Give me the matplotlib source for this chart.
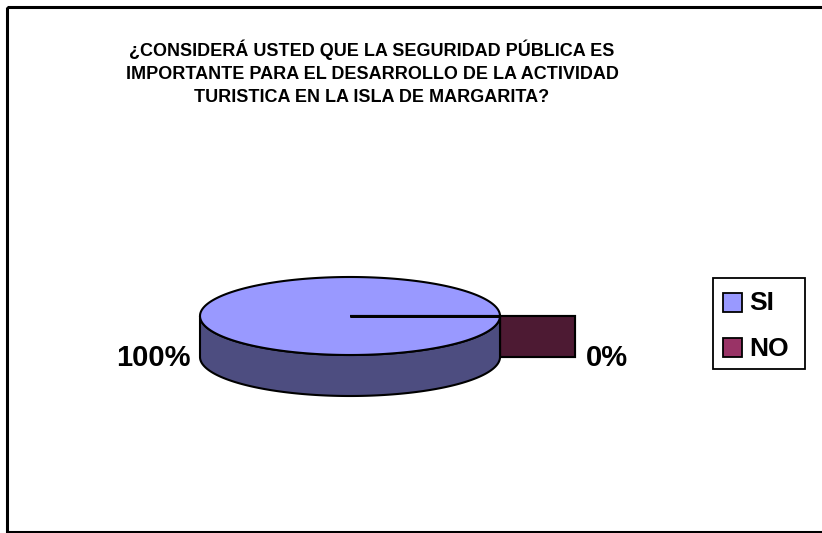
import numpy as np
import matplotlib
matplotlib.use('Agg')
import matplotlib.pyplot as plt
from matplotlib.patches import Polygon, Rectangle

labels = ['SI', 'NO']
values = [100, 0]
pct_labels = ['100%', '0%']
top_colors = ['#9999FF', '#993366']
side_colors = ['#4D4D80', '#4D1A33']
explode = [0.0, 0.5]
title = ('¿CONSIDERÁ USTED QUE LA SEGURIDAD PÚBLICA ES\n'
         'IMPORTANTE PARA EL DESARROLLO DE LA ACTIVIDAD\n'
         'TURISTICA EN LA ISLA DE MARGARITA?')

plt.rcParams['font.family'] = ['Liberation Sans', 'DejaVu Sans']

fig = plt.figure(figsize=(8.22, 5.33), dpi=100)
ax = fig.add_axes([0, 0, 1, 1])
ax.set_xlim(0, 822)
ax.set_ylim(533, 0)
ax.axis('off')

# outer chart frame (right side runs off the picture)
ax.add_patch(Rectangle((6.5, 6.5), 830, 525, fill=False, lw=2.2,
                       ec='black', zorder=1))

# 3d pie geometry, pixel units
cx, cy = 350, 316
rx, ry = 150, 39
depth = 41


def rim(t, dx=0, dy=0):
    return cx + dx + rx * np.cos(t), cy + dy - ry * np.sin(t)


fracs = np.array(values, dtype=float) / sum(values)
starts = 2 * np.pi * np.concatenate([[0], np.cumsum(fracs)[:-1]])
ends = starts + 2 * np.pi * fracs

# draw wedges with smaller slices first (they sit behind)
order = np.argsort(fracs)
for i in order:
    t0, t1 = starts[i], ends[i]
    mid = (t0 + t1) / 2
    ex = explode[i] * rx * np.cos(mid)
    ey = -explode[i] * ry * np.sin(mid)
    # radial cut faces
    for t in (t0, t1):
        x0, y0 = cx + ex, cy + ey
        x1, y1 = rim(t, ex, ey)
        ax.add_patch(Polygon([(x0, y0), (x1, y1), (x1, y1 + depth),
                              (x0, y0 + depth)], closed=True,
                             fc=side_colors[i], ec='black', lw=1.5, zorder=2))
    # front side band
    lo, hi = max(t0, np.pi), min(t1, 2 * np.pi)
    if hi > lo:
        tt = np.linspace(lo, hi, 200)
        xs, ys = rim(tt, ex, ey)
        pts = list(zip(xs, ys)) + list(zip(xs[::-1], ys[::-1] + depth))
        ax.add_patch(Polygon(pts, closed=True, fc=side_colors[i],
                             ec='black', lw=1.5, zorder=3))
    # top face
    if t1 > t0:
        tt = np.linspace(t0, t1, 400)
        xs, ys = rim(tt, ex, ey)
        pts = [(cx + ex, cy + ey)] + list(zip(xs, ys))
        ax.add_patch(Polygon(pts, closed=True, fc=top_colors[i],
                             ec='black', lw=1.5, zorder=4))
        # slice boundary radius, drawn a bit heavier
        for t in (t0, t1):
            x1, y1 = rim(t, ex, ey)
            ax.plot([cx + ex, x1], [cy + ey, y1], color='black', lw=2,
                    solid_capstyle='butt', zorder=4.5)

# percentage labels
ax.text(153, 358, pct_labels[0], fontsize=21, fontweight='bold',
        ha='center', va='center')
ax.text(607, 358, pct_labels[1], fontsize=21, fontweight='bold',
        ha='center', va='center')

ax.text(372, 73, title, fontsize=13, fontweight='bold', ha='center',
        va='center', linespacing=1.45)

# legend
ax.add_patch(Rectangle((713, 278), 92, 91, fill=False, ec='black', lw=1.3,
                       zorder=5))
for k, (lab, col) in enumerate(zip(labels, top_colors)):
    y = 302 + k * 45
    ax.add_patch(Rectangle((723, y - 9.5), 19, 19, fc=col, ec='black', lw=1.3,
                           zorder=6))
    ax.text(749, y + 1.5, lab, fontsize=19, fontweight='bold', va='center',
            ha='left')

fig.savefig('out.png', dpi=100)
